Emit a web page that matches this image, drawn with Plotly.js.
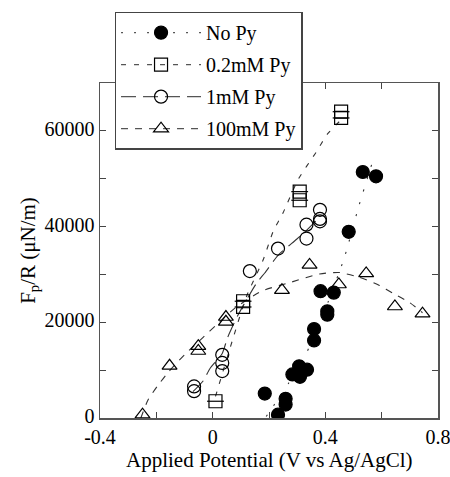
<!DOCTYPE html>
<html>
<head>
<meta charset="utf-8">
<script src="https://cdn.plot.ly/plotly-3.0.1.min.js"></script>
<style>html,body{margin:0;padding:0;background:#fff;}#chart{width:450px;height:477px;}</style>
</head>
<body>
<div id="chart"></div>
<script>
// ---- data ----
const seriesNames = ["No Py", "0.2mM Py", "1mM Py", "100mM Py"];

const noPyX = [0.185, 0.232, 0.259, 0.259, 0.283, 0.307, 0.310, 0.335, 0.360, 0.360, 0.383, 0.407, 0.407, 0.430, 0.483, 0.533, 0.580];
const noPyY = [5100, 700, 4000, 2800, 9100, 10800, 8600, 10100, 18600, 16200, 26500, 22300, 21600, 26200, 38900, 51400, 50500];
const noPyFitX = [0.19, 0.27, 0.333, 0.386, 0.409, 0.468, 0.519, 0.570];
const noPyFitY = [300, 7300, 13600, 20600, 24100, 33600, 44300, 54000];

const py02X = [0.010, 0.108, 0.108, 0.309, 0.309, 0.456, 0.456];
const py02Y = [3500, 24400, 23200, 47300, 45500, 64000, 62700];
const py02FitX = [0.01, 0.07, 0.12, 0.179, 0.215, 0.25, 0.303, 0.368, 0.407, 0.456];
const py02FitY = [4500, 16200, 25400, 33000, 39000, 42900, 49800, 55600, 59300, 62300];

const py1X = [-0.066, -0.066, 0.034, 0.034, 0.034, 0.132, 0.232, 0.333, 0.333, 0.381, 0.381, 0.381];
const py1Y = [6600, 5600, 13200, 11500, 9800, 30700, 35400, 40400, 37500, 43500, 41600, 41100];
const py1FitX = [-0.07, -0.033, -0.01, 0.034, 0.053, 0.09, 0.156, 0.185, 0.232, 0.297, 0.335, 0.38];
const py1FitY = [5500, 7800, 10300, 13500, 16800, 21500, 28200, 30300, 34000, 37300, 39300, 42000];

const py100X = [-0.249, -0.153, -0.051, -0.051, 0.047, 0.047, 0.246, 0.344, 0.448, 0.545, 0.647, 0.745];
const py100Y = [700, 10900, 15000, 14000, 21100, 20100, 26700, 32000, 27900, 30200, 23300, 21800];
const py100FitX = [-0.255, -0.23, -0.197, -0.157, -0.10, -0.033, 0.014, 0.08, 0.173, 0.274, 0.38, 0.45, 0.521, 0.592, 0.639, 0.70, 0.745];
const py100FitY = [0, 3700, 6600, 9600, 13200, 16900, 19500, 23000, 26500, 28300, 30100, 30400, 29400, 27700, 26100, 24100, 22000];

const xTickVals = [-0.4, 0, 0.4, 0.8];
const xTickText = ["-0.4", "0", "0.4", "0.8"];
const xMinorVals = [-0.2, 0.2, 0.6];
const yTickVals = [0, 20000, 40000, 60000];
const yTickText = ["0", "20000", "40000", "60000"];
const yMinorVals = [10000, 30000, 50000];
const xTitle = "Applied Potential (V vs Ag/AgCl)";
const yTitle = "F<sub>p</sub>/R (μN/m)";

// ---- styling ----
const FONT = "Liberation Serif";
const LINEC = "#333";
const dashes = ["2px,11px", "5px,8px", "15px,7px", "7px,7px"];
const symbols = ["circle", "square-open", "circle-open", "triangle-up-open"];
const sizes = [13, 13, 13, 13];

function fitTrace(x, y, i) {
  return {x: x, y: y, mode: "lines", type: "scatter", showlegend: false, hoverinfo: "skip",
          line: {color: LINEC, width: 1.1, dash: dashes[i], shape: "spline", smoothing: 0.6}};
}
function ptTrace(x, y, i) {
  return {x: x, y: y, mode: "markers", type: "scatter", showlegend: false,
          marker: {symbol: symbols[i], size: sizes[i], color: "#000", line: {color: "#000", width: 1.2}}};
}
function legendTrace(i) {
  return {x: [null], y: [null], mode: "lines+markers", type: "scatter", name: seriesNames[i],
          legendgroup: "g" + i,
          line: {color: "#555", width: 1.1, dash: dashes[i]},
          marker: {symbol: symbols[i], size: sizes[i], color: "#000", line: {color: "#000", width: 1.2}}};
}

const data = [
  fitTrace(noPyFitX, noPyFitY, 0),
  fitTrace(py02FitX, py02FitY, 1),
  fitTrace(py1FitX, py1FitY, 2),
  fitTrace(py100FitX, py100FitY, 3),
  ptTrace(py100X, py100Y, 3),
  ptTrace(py1X, py1Y, 2),
  ptTrace(py02X, py02Y, 1),
  {x: py02X, y: py02Y, mode: "markers", type: "scatter", showlegend: false, hoverinfo: "skip",
   marker: {symbol: "line-ew-open", size: 12, color: "#000", line: {color: "#000", width: 1.2}}},
  ptTrace(noPyX, noPyY, 0),
  legendTrace(0), legendTrace(1), legendTrace(2), legendTrace(3)
];

const axisCommon = {
  ticks: "inside", ticklen: 6, tickwidth: 1, tickcolor: "#444",
  showline: true, linecolor: "#555", linewidth: 1.5, mirror: "ticks",
  showgrid: false, zeroline: false, ticklabeloverflow: "allow",
  tickfont: {family: FONT, size: 20, color: "#000"}
};

const layout = {
  width: 450, height: 477,
  margin: {l: 100, r: 12, t: 83, b: 59},
  paper_bgcolor: "#fff", plot_bgcolor: "#fff",
  font: {family: FONT, size: 20, color: "#000"},
  showlegend: true,
  legend: {x: 0.043, y: 1.213, xanchor: "left", yanchor: "top",
           bgcolor: "#fff", bordercolor: "#444", borderwidth: 1.5,
           font: {family: FONT, size: 20, color: "#000"},
           tracegroupgap: 3, itemwidth: 80},
  xaxis: Object.assign({}, axisCommon, {
          range: [-0.4, 0.8], tickmode: "array", tickvals: xTickVals, ticktext: xTickText,
          minor: {tickmode: "array", tickvals: xMinorVals, ticks: "inside", ticklen: 6, tickwidth: 1, tickcolor: "#444", showgrid: false}}),
  yaxis: Object.assign({}, axisCommon, {
          range: [0, 70000], tickmode: "array", tickvals: yTickVals, ticktext: yTickText,
          ticklabelshift: -2,
          minor: {tickmode: "array", tickvals: yMinorVals, ticks: "inside", ticklen: 6, tickwidth: 1, tickcolor: "#444", showgrid: false},
          title: {text: yTitle, font: {family: FONT, size: 21, color: "#000"}}}),
  annotations: [{text: xTitle, xref: "paper", yref: "paper", x: 0.5, y: -0.124,
                 xanchor: "center", yanchor: "middle", showarrow: false, borderpad: 0,
                 font: {family: FONT, size: 21, color: "#000"}}]
};

Plotly.newPlot("chart", data, layout, {displayModeBar: false, staticPlot: true});
</script>
</body>
</html>
